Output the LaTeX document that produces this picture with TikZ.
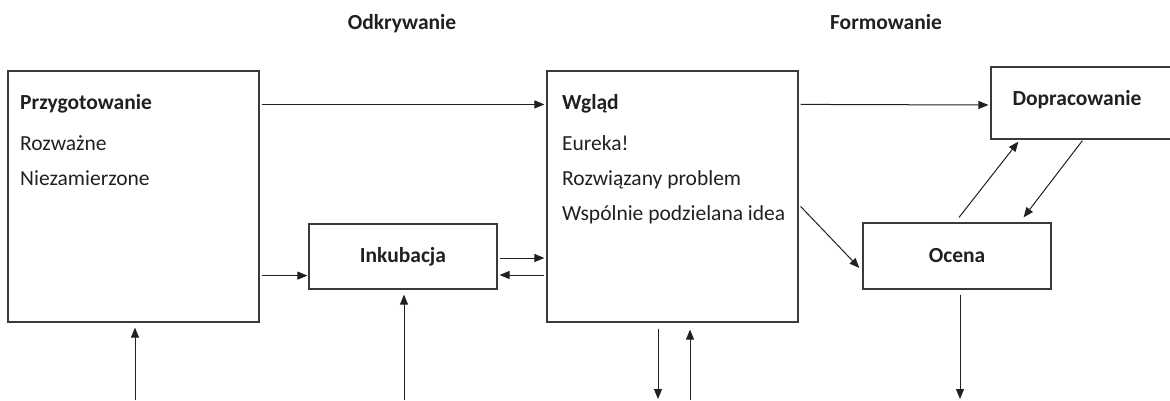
\documentclass[tikz,border=0pt]{standalone}
\usepackage{fontspec}
\setmainfont{Carlito}
\usetikzlibrary{arrows.meta,calc}
\definecolor{ink}{HTML}{231F20}
\definecolor{frame}{HTML}{3A3A3A}
\begin{document}
\begin{tikzpicture}[x=1pt,y=-1pt,
  every node/.style={text=ink},
  box/.style={draw=frame,line width=1.2pt,inner sep=0pt,font=\fontsize{21.5}{24}\selectfont\bfseries},
  boxtext/.style={anchor=base west,inner sep=0pt,font=\fontsize{21.5}{24}\selectfont},
  boxhead/.style={anchor=base west,inner sep=0pt,font=\fontsize{21.5}{24}\selectfont\bfseries},
  heading/.style={anchor=base,inner sep=0pt,font=\fontsize{21.5}{24}\selectfont\bfseries},
  arr/.style={draw=ink,line width=1pt,-{Triangle[length=10pt,width=8pt]}}]
\useasboundingbox (0,0) rectangle (1170,400);
\clip (0,0) rectangle (1170,400);
% headings
\node[heading] (h1) at (402,29) {Odkrywanie};
\node[heading] (h2) at (886,29) {Formowanie};
% boxes
\node[box,minimum width=251pt,minimum height=251pt] (przyg) at (133.5,196.5) {};
\node[box,minimum width=188pt,minimum height=65pt] (inkub) at (403,256.5) {Inkubacja};
\node[box,minimum width=251pt,minimum height=251pt] (wglad) at (672.5,196.5) {};
\node[box,minimum width=200pt,minimum height=72pt] (doprac) at (1091,103) {};
\node[box,minimum width=188pt,minimum height=66pt] (ocena) at (957,256) {Ocena};
% texts inside
\node[boxhead] (t1) at (20,109) {Przygotowanie};
\node[boxtext] (t2) at (20,150) {Rozważne};
\node[boxtext] (t3) at (20,185) {Niezamierzone};
\node[boxhead] (w1) at (562,109) {Wgląd};
\node[boxtext] (w2) at (562,150) {Eureka!};
\node[boxtext] (w3) at (562,185) {Rozwiązany problem};
\node[boxtext] (w4) at (562,220) {Wspólnie podzielana idea};
\node[heading] (d1) at (1077,105) {Dopracowanie};
% free ends at the bottom edge
\coordinate (b1) at (135,400);
\coordinate (b2) at (404,400);
\coordinate (b3) at (658,399);
\coordinate (b4) at (690,400);
\coordinate (b5) at (960,399);
% connectors
\draw[arr] ($(przyg.north east)+(2,34)$) -- ($(wglad.north west)+(-2,34)$);
\draw[arr] ($(przyg.south east)+(2,-47)$) -- ($(inkub.south west)+(-1,-14)$);
\draw[arr] ($(inkub.east)+(2,1.5)$) -- ($(wglad.west)+(-2,61.5)$);
\draw[arr] ($(wglad.west)+(-2,78.5)$) -- ($(inkub.east)+(2,18.5)$);
\draw[arr] (b1) -- ($(przyg.south)+(1.5,5)$);
\draw[arr] (b2) -- ($(inkub.south)+(1,5)$);
\draw[arr] ($(wglad.south)+(-14.5,6)$) -- (b3);
\draw[arr] (b4) -- ($(wglad.south)+(17.5,7)$);
\draw[arr] ($(wglad.north east)+(2,34)$) -- ($(doprac.west)+(-2,2)$);
\draw[arr] ($(wglad.north east)+(2,136)$) -- ($(ocena.west)+(-3,12)$);
\draw[arr] ($(ocena.north)+(2,-5)$) -- ($(doprac.south west)+(28,2)$);
\draw[arr] ($(doprac.south west)+(92,1)$) -- ($(ocena.north east)+(-28,-5)$);
\draw[arr] ($(ocena.south)+(3,5)$) -- (b5);
\end{tikzpicture}
\end{document}
